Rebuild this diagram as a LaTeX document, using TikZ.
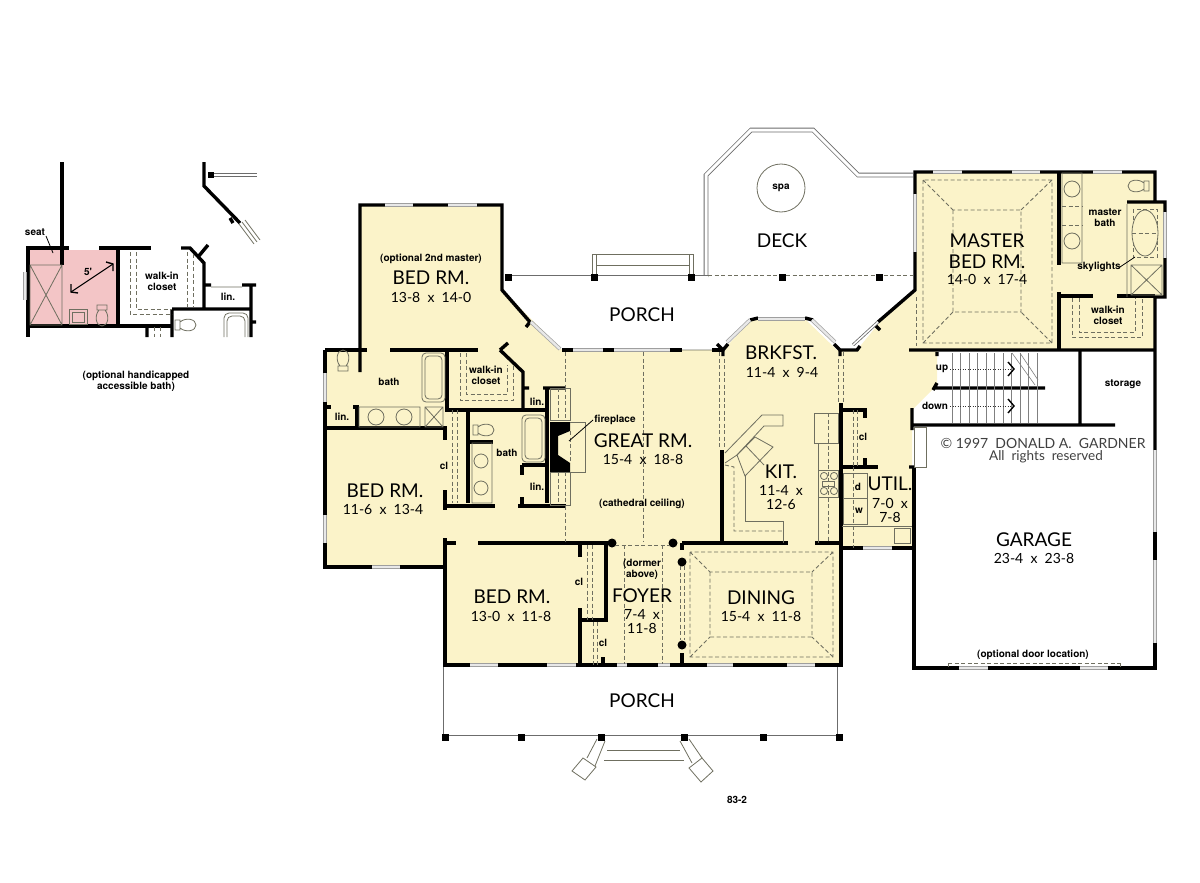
\documentclass[tikz,border=0pt]{standalone}
\usepackage{fontspec}
\setmainfont{Lato}
\newfontfamily\notefont{TeX Gyre Heros}
\usetikzlibrary{arrows.meta}
\definecolor{roomyellow}{HTML}{FBF3C9}
\definecolor{roompink}{HTML}{F3C5C6}
\definecolor{thinline}{HTML}{6F6F60}
\tikzset{
wall/.style={line width=3.4pt,black},
win/.style={draw=gray!75,double=gray!18,double distance=2.4pt,line width=.7pt},
rail/.style={draw=gray!85!black,double=white,double distance=3pt,line width=.8pt},
fix/.style={thinline,line width=.8pt},
dsh/.style={thinline,line width=.9pt,dash pattern=on 4pt off 2.5pt},
post/.style={fill=black,draw=none},
room/.style={font=\fontsize{19}{19}\selectfont},
size/.style={font=\fontsize{14}{14}\selectfont},
note/.style={font=\notefont\bfseries\fontsize{10}{11}\selectfont,inner sep=0pt,align=center},
toilet/.pic={\draw[fix] (-9,-5) rectangle (-4,5) (-4,-3) .. controls (2,-8) and (12,-6) .. (12,0) .. controls (12,6) and (2,8) .. (-4,3);},
}
\begin{document}
\begin{tikzpicture}[x=1pt,y=-1pt]
\useasboundingbox (0,0) rectangle (1200,883);
% floor areas
\fill[roomyellow] (360,205)--(502,205)--(502,290)--(562,350)--(723,350)--(752,320)--(806,320)--(837,350)--(857,350)--(880,322)--(915,290)--(915,172)--(1155,172)--(1155,202)--(1165,202)--(1165,297)--(1155,297)--(1155,350)--(937,350)--(937,385)--(912,410)--(912,467)--(914,548)--(842,548)--(842,665)--(445,665)--(445,567)--(325,567)--(325,350)--(360,350)--cycle;
\fill[roompink] (28,250) rectangle (118,325);
% deck and rear porch
\draw[rail] (706,277)--(706,175)--(751,130)--(813,130)--(858,175)--(913,175);
\draw[rail] (508,277)--(708,277);
\draw[dsh] (708,275)--(913,275);
\draw[fix] (592,277)--(592,254)--(693,254)--(693,277) (596,277)--(596,265)--(689,265)--(689,277) (596,254)--(596,265) (689,254)--(689,265);
\draw[thinline,line width=.8pt] (781,188) circle (24);
% front porch
\draw[rail] (445,665)--(445,737)--(839,737)--(839,665);
\draw[fix] (607,750)--(680,750) (604,760)--(684,760);
\draw[fix] (597,739)--(587,758) (605,741)--(595,766) (680,741)--(692,763) (689,739)--(702,758);
\draw[fix,fill=white] (572,771)--(583,758)--(596,767)--(585,780)--cycle (689,768)--(702,758)--(713,771)--(701,782)--cycle;
\foreach \px/\py in {508/277,594/277,691/277,782/277,879/277,445/737,521/737,601/737,684/737,763/737,839/737}
  \fill[post] (\px-3.5,\py-3.5) rectangle (\px+3.5,\py+3.5);
% outer walls
\draw[wall] (360,372)--(360,205)--(502,205)--(502,290)--(530,322);
\draw[wall] (526,327)--(530,322);
\draw[wall] (325,350)--(367,350) (390,350)--(478,350);
\draw[wall] (325,350)--(325,567)--(445,567) (445,538)--(445,665)--(841,665)--(841,403);
\draw[wall] (562,350)--(603,350) (603,350)--(614,350) (642,350)--(650,350) (670,350)--(682,350) (712,350)--(723,350);
\draw[wall] (717,344)--(723,350)--(728,344) (723,350)--(723,356);
\draw[wall] (750,320)--(758,318) (805,318)--(813,320);
\draw[wall] (834,344)--(840,350)--(857,350)--(860,346) (840,350)--(840,356);
\draw[wall] (878,322)--(915,290)--(915,172)--(1155,172)--(1155,202) (1127,202)--(1165,202)--(1165,297)--(1155,297)--(1155,450);
\draw[wall] (1155,532)--(1155,560) (1155,643)--(1155,668)--(914,668)--(914,468);
\draw[wall] (909,350)--(1155,350) (875,325)--(880,330);
% inner walls, left wing
\draw[wall] (500,350)--(508,343) (500,350)--(523,372)--(523,410) (523,388)--(529,388) (543,388)--(565,388);
\draw[wall] (447,350)--(447,410)--(547,410) (547,388)--(547,503) (518,506)--(566,506) (445,506)--(495,506);
\draw[wall] (325,428)--(447,428) (445,428)--(445,440) (445,490)--(445,510) (468,410)--(468,503) (468,442)--(493,442);
\draw[wall] (325,407)--(331,407) (353,407)--(359,407) (357,407)--(357,428);
\draw[wall] (522,465)--(548,465) (522,465)--(522,475) (522,497)--(522,505);
\draw[wall] (445,543)--(456,543) (478,543)--(606,543)--(606,620)--(580,620)--(580,665) (580,545)--(580,557) (580,608)--(580,620) (603,657)--(603,665);
\fill[post] (550,422)--(570,422)--(570,431)--(558,436)--(558,455)--(570,463)--(570,472)--(550,472)--cycle;
% inner walls, kitchen and foyer
\draw[wall] (722,450)--(722,543) (682,543)--(788,543) (815,543)--(841,543) (682,543)--(682,550) (682,653)--(682,665);
\foreach \px/\py in {612/543,673/543,682/562,682/645}
  \fill[post] (\px,\py) circle (4.5);
% inner walls, right wing
\draw[wall] (840,410)--(865,410)--(865,418) (842,467)--(878,467) (865,458)--(865,467) (842,548)--(914,548);
\draw[wall] (937,352)--(937,356) (937,383)--(933,390) (935,388)--(1045,388) (912,408)--(912,430) (912,425)--(1115,425) (1080,350)--(1080,425) (909,467)--(914,467);
\draw[wall] (1059,172)--(1059,265) (1059,292)--(1059,350) (1059,296)--(1093,296) (1117,296)--(1155,296);
% windows
\foreach \ax/\bx/\wy in {385/413/205,448/477/205,933/962/172,1012/1040/172,1093/1122/172,372/400/567,470/498/665,547/576/665,617/627/665,658/670/665,707/733/665,787/815/665,863/892/548,959/988/668,1080/1108/668,573/603/350,614/642/350,642/670/350,758/805/319}
  \draw[win] (\ax,\wy)--(\bx,\wy);
\foreach \wx/\ay/\by in {325/373/402,325/515/543,915/194/252,1165/212/258,1155/450/532,1155/560/643}
  \draw[win] (\wx,\ay)--(\wx,\by);
\draw[win] (531,322)--(560,349);
\draw[win] (727,342)--(750,320);
\draw[win] (812,320)--(835,342);
\draw[fix] (682,350)--(712,350) (853,345)--(878,322);
\draw[rail,double distance=1.5pt] (853,345)--(878,322);
% bath fixtures, left wing
\draw[fix] (359,407) rectangle (420,427) (376,417) circle (8) (404,417) circle (8);
\draw[fix] (425,407) rectangle (443,427) (425,407)--(443,427) (443,407)--(425,427);
\draw[fix,rounded corners=4pt] (422,353) rectangle (445,402) (425,356) rectangle (442,399);
\pic[rotate=90] at (343,362) {toilet};
\pic at (482,430) {toilet};
\draw[fix] (472,443) rectangle (492,503) (481,461) circle (7) (481,488) circle (7);
\draw[fix,rounded corners=4pt] (522,415) rectangle (545,462) (525,418) rectangle (542,459);
\draw[dsh] (460,353)--(460,400)--(513,400)--(513,365) (466,353)--(466,394)--(507,394)--(507,365);
\draw[dsh] (452,410)--(452,503) (457,410)--(457,503);
\draw[dsh] (587,545)--(587,620) (592,545)--(592,620) (593,622)--(593,665) (597,622)--(597,665);
% fireplace
\draw[fix] (550,388) rectangle (570,420) (570,422)--(585,422)--(585,472)--(570,472) (550,472) rectangle (570,505);
\draw[dsh] (558,388)--(558,420) (565,388)--(565,420) (558,472)--(558,505) (565,472)--(565,505) (570,431)--(570,463);
\draw[fix,black] (593,420)--(569,441);
% dashed lines, great room
\draw[dsh] (565,352)--(565,388) (565,506)--(565,542) (643,352)--(643,541);
\draw[dsh] (719,352)--(719,449) (724,352)--(724,449) (838,352)--(838,403) (843,352)--(843,403);
% kitchen
\draw[fix] (725,453)--(762,415)--(783,415)--(783,426)--(764,426)--(737,455);
\draw[fix] (737,455)--(755,437)--(773,447)--(745,476)--cycle (746,446)--(764,465) (737,455)--(725,463);
\draw[fix] (745,476)--(745,521)--(783,521)--(783,543);
\draw[dsh] (725,465)--(734,467)--(734,531)--(783,531);
\draw[fix] (814,413) rectangle (838,443) (818,470) rectangle (838,497) (818,443)--(818,470) (818,497)--(818,543);
\foreach \px/\py in {824/476,834/476,824/491,834/491}
  \draw[fix] (\px,\py) circle (3.6);
\draw[fix] (822,481) rectangle (834,486);
\draw[dsh] (828,413)--(828,541);
% foyer
\draw[dsh] (615,545)--(670,545) (624,545)--(624,664) (662,545)--(662,664) (680,566)--(680,640) (684,566)--(684,640);
% dining and master trays
\draw[dsh] (690,552) rectangle (833,657) (710,572) rectangle (812,637) (690,552)--(710,572) (833,552)--(812,572) (690,657)--(710,637) (833,657)--(812,637);
\draw[dsh] (923,180) rectangle (1052,343) (953,210) rectangle (1021,312) (923,180)--(953,210) (1052,180)--(1021,210) (923,343)--(953,312) (1052,343)--(1021,312);
\draw[dsh] (916,297)--(916,346);
% master bath
\draw[fix] (1062,173) rectangle (1082,263) (1072,189) circle (8) (1072,241) circle (8) (1127,204)--(1127,297);
\draw[dsh] (1062,206)--(1082,206) (1062,225)--(1082,225);
\pic[rotate=180] at (1140,186) {toilet};
\draw[dsh] (1133,209) rectangle (1157,257);
\draw[fix,fill=roomyellow] (1145,233) ellipse (13 and 23);
\draw[dsh] (1132,233)--(1158,233);
\draw[fix] (1131,265) rectangle (1162,295) (1131,265)--(1162,295) (1162,265)--(1131,295);
\draw[fix,black] (1135,257)--(1120,267);
\draw[dsh] (1072,298)--(1072,337)--(1142,337)--(1142,298) (1079,298)--(1079,332)--(1135,332)--(1135,298);
% utility and garage door
\draw[dsh] (853,410)--(853,467) (857,410)--(857,467) (853,467)--(853,548);
\draw[fix] (843,473) rectangle (867,524) (843,498)--(867,498) (842,526)--(912,526) (894,528) rectangle (910,543);
\draw[fix,fill=white] (914,427) rectangle (926,467);
\draw[dsh] (948,663)--(1120,663) (948,663)--(948,668) (1120,663)--(1120,668);
% stairs
\foreach \tx in {952,960.5,...,1045}
  \draw[gray,line width=.6pt] (\tx,353)--(\tx,423);
\draw[gray,line width=.6pt] (1012,353)--(1035,385) (1020,353)--(1038,380);
\draw[black!80,dotted,line width=.5pt] (950,369)--(1012,369);
\draw[black!80,dotted,line width=.5pt] (950,406)--(1012,406);
\draw[black,line width=1.4pt] (1008,362)--(1014,369)--(1008,376) (1008,399)--(1014,406)--(1008,413);
% inset plan
\draw[wall] (26,248)--(69,248) (99,248)--(151,248) (28,248)--(28,337) (28,326)--(172,326) (118,248)--(118,326) (62,162)--(62,265);
\draw[wall] (204,162)--(204,186)--(240,223) (230,218)--(233,223);
\draw[wall] (181,248)--(190,248)--(204,263)--(204,309) (208,245)--(198,257) (172,309)--(251,309) (172,309)--(172,337) (251,285)--(251,337) (204,285)--(211,285) (242,285)--(256,285) (147,326)--(147,337) (252,322)--(256,322);
\fill[post] (208,172) rectangle (214,178);
\draw[rail,double distance=1.5pt] (214,175)--(257,175);
\draw[fix] (242,222)--(257,242) (245,220)--(260,240) (239,224)--(254,244);
\draw[win] (25,272)--(25,300);
\draw[fix] (211,287)--(242,287) (30,265) rectangle (62,325) (30,265)--(62,325) (62,265)--(30,325) (62,265)--(62,325);
\draw[fix] (69,309) rectangle (87,324) (72,312) rectangle (84,322);
\pic[rotate=-90] at (102,314) {toilet};
\pic at (184,325) {toilet};
\draw[fix,rounded corners=5pt] (224,337)--(224,313)--(248,313)--(248,337) (227,337)--(227,316)--(245,316)--(245,337);
\draw[dsh] (130,252)--(130,314)--(172,314) (136,252)--(136,309)--(172,309) (187,252)--(187,307) (193,254)--(193,307) (154,327)--(154,337) (160,327)--(160,337);
\draw[fix,black] (46,236)--(53,253);
\draw[black,line width=1pt] (71,292)--(113,264);
\draw[black,line width=1.4pt] (71,284)--(71,292)--(78,293) (106,262)--(113,264)--(113,271);
% labels
\node[note] (seatlab) at (35,232) {seat};
\node[note] (shortlab) at (88,272) {5'};
\node[note] (closetlabA) at (162,281) {walk-in\\closet};
\node[note] (linlabA) at (228,297) {lin.};
\node[note] (insetlab) at (136,381) {(optional handicapped\\accessible bath)};
\node[note] (optlab) at (431,259) {(optional 2nd master)};
\node[room] (bedlabA) at (431,278) {BED RM.};
\node[size] (bedsizeA) at (431,297) {13-8~~x~~14-0};
\node[note] (bathlabA) at (389,382) {bath};
\node[note] (closetlabB) at (486,375) {walk-in\\closet};
\node[note] (linlabB) at (342,417) {lin.};
\node[note] (linlabC) at (537,402) {lin.};
\node[note] (linlabD) at (537,487) {lin.};
\node[note] (cllabA) at (444,466) {cl};
\node[note] (bathlabB) at (507,453) {bath};
\node[note] (firelab) at (615,420) {fireplace};
\node[room] (greatlab) at (643,441) {GREAT RM.};
\node[size] (greatsize) at (643,459) {15-4~~x~~18-8};
\node[note] (ceillab) at (642,504) {(cathedral ceiling)};
\node[room] (bedlabB) at (385,491) {BED RM.};
\node[size] (bedsizeB) at (383,509) {11-6~~x~~13-4};
\node[room] (bedlabC) at (512,597) {BED RM.};
\node[size] (bedsizeC) at (511,616) {13-0~~x~~11-8};
\node[note] (cllabB) at (579,582) {cl};
\node[note] (cllabC) at (603,643) {cl};
\node[note] (dormlab) at (642,569) {(dormer\\above)};
\node[room] (foyerlab) at (642,596) {FOYER};
\node[size,align=center] (foyersize) at (642,622) {7-4~~x\\11-8};
\node[room] (dininglab) at (761,598) {DINING};
\node[size] (diningsize) at (761,616) {15-4~~x~~11-8};
\node[room] (porchlabA) at (642,701) {PORCH};
\node[room] (porchlabB) at (642,315) {PORCH};
\node[room] (decklab) at (782,241) {DECK};
\node[note] (spalab) at (781,188) {spa};
\node[room] (brklab) at (781,353) {BRKFST.};
\node[size] (brksize) at (782,372) {11-4~~x~~9-4};
\node[room] (kitlab) at (781,472) {KIT.};
\node[size,align=center] (kitsize) at (781,498) {11-4~~x\\12-6};
\node[note] (cllabD) at (863,437) {cl};
\node[note] (dlab) at (858,487) {d};
\node[note] (wlab) at (859,511) {w};
\node[room] (utillab) at (890,484) {UTIL.};
\node[size,align=center] (utilsize) at (890,510) {7-0~~x\\7-8};
\node[note] (uplab) at (942,369) {up};
\node[note] (downlab) at (935,406) {down};
\node[note] (storelab) at (1123,384) {storage};
\node[size,black!75] (rightslab) at (1043,443) {\textcopyright~1997~~DONALD~A.~~GARDNER};
\node[size,font=\fontsize{13.5}{13.5}\selectfont,black!75] (rightslabB) at (1046,457) {All~~rights~~reserved};
\node[room] (garagelab) at (1034,540) {GARAGE};
\node[size] (garagesize) at (1034,558) {23-4~~x~~23-8};
\node[note] (doorlab) at (1033,655) {(optional door location)};
\node[room] (masterlab) at (987,241) {MASTER};
\node[room] (masterlabB) at (987,262) {BED RM.};
\node[size] (mastersize) at (987,279) {14-0~~x~~17-4};
\node[note] (mbathlab) at (1105,218) {master\\bath};
\node[note] (skylab) at (1099,267) {skylights};
\node[note] (closetlabC) at (1108,315) {walk-in\\closet};
\node[note] (pagelab) at (737,800) {83-2};
\end{tikzpicture}
\end{document}
